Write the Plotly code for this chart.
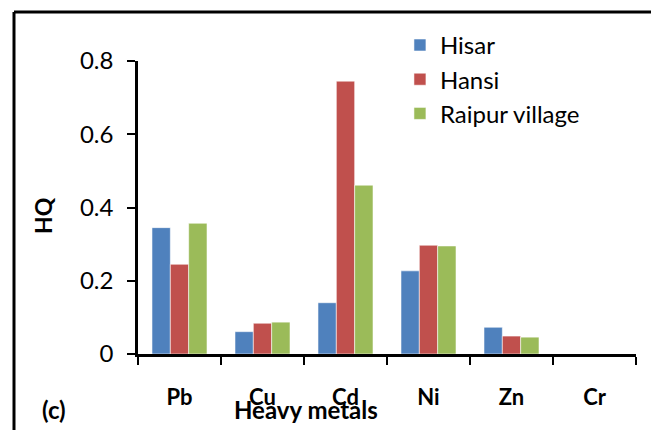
import plotly.graph_objects as go

# Hazard quotient (HQ) of heavy metals at three sites
metals = ["Pb", "Cu", "Cd", "Ni", "Zn", "Cr"]
hisar = [0.345, 0.061, 0.140, 0.227, 0.073, 0.0]
hansi = [0.245, 0.084, 0.745, 0.297, 0.049, 0.0]
raipur = [0.357, 0.087, 0.461, 0.295, 0.046, 0.0]

y_ticks = [0, 0.2, 0.4, 0.6, 0.8]
y_tick_text = ["0", "0.2", "0.4", "0.6", "0.8"]

series = [
    ("Hisar", hisar, "#4F81BD"),
    ("Hansi", hansi, "#C0504D"),
    ("Raipur village", raipur, "#9BBB59"),
]

FONT = "Lato, 'Open Sans', sans-serif"

fig = go.Figure()
for name, vals, color in series:
    fig.add_trace(go.Bar(
        x=metals, y=vals, name=name,
        marker=dict(color=color, line=dict(color="rgba(255,255,255,0.55)", width=1)),
    ))

fig.update_layout(
    width=651, height=430,
    margin=dict(l=138, r=15, t=61, b=76),
    paper_bgcolor="white", plot_bgcolor="white",
    barmode="group", bargap=0.337, bargroupgap=0,
    font=dict(family=FONT, color="black"),
    showlegend=True,
    legend=dict(
        x=0.526, y=1.13, xanchor="left", yanchor="top",
        font=dict(size=24, family=FONT, color="black"),
        bgcolor="rgba(0,0,0,0)", itemwidth=30,
    ),
    xaxis=dict(
        showline=True, linecolor="black", linewidth=2.5,
        ticks="outside", tickson="boundaries", ticklen=8, tickwidth=2, tickcolor="black",
        tickfont=dict(size=22, family=FONT, color="black", weight="bold"),
        ticklabelstandoff=22,
        showgrid=False, zeroline=False, fixedrange=True,
    ),
    yaxis=dict(
        range=[0, 0.8], tickvals=y_ticks, ticktext=y_tick_text,
        showline=True, linecolor="black", linewidth=2.5,
        ticks="outside", ticklen=8, tickwidth=2, tickcolor="black",
        tickfont=dict(size=24, family=FONT, color="black"),
        ticklabelstandoff=9,
        showgrid=False, zeroline=False, fixedrange=True,
    ),
    shapes=[
        # outer frame of the panel
        dict(type="line", xref="paper", yref="paper",
             x0=-0.2490, x1=1.04, y0=1.1672, y1=1.1672,
             line=dict(color="black", width=3)),
        dict(type="line", xref="paper", yref="paper",
             x0=-0.2490, x1=-0.2490, y0=1.1672, y1=-0.27,
             line=dict(color="black", width=3)),
    ],
    annotations=[
        dict(text="<b>Heavy metals</b>", xref="paper", yref="paper",
             x=0.337, y=-0.188, xanchor="center", yanchor="middle", showarrow=False,
             font=dict(size=24, family=FONT, color="black")),
        dict(text="<b>(c)</b>", xref="paper", yref="paper",
             x=-0.168, y=-0.191, xanchor="center", yanchor="middle", showarrow=False,
             font=dict(size=24, family=FONT, color="black")),
        dict(text="<b>HQ</b>", xref="paper", yref="paper",
             x=-0.191, y=0.474, xanchor="center", yanchor="middle",
             showarrow=False, textangle=-90,
             font=dict(size=23, family=FONT, color="black")),
    ],
)

fig.write_html("out.html")
